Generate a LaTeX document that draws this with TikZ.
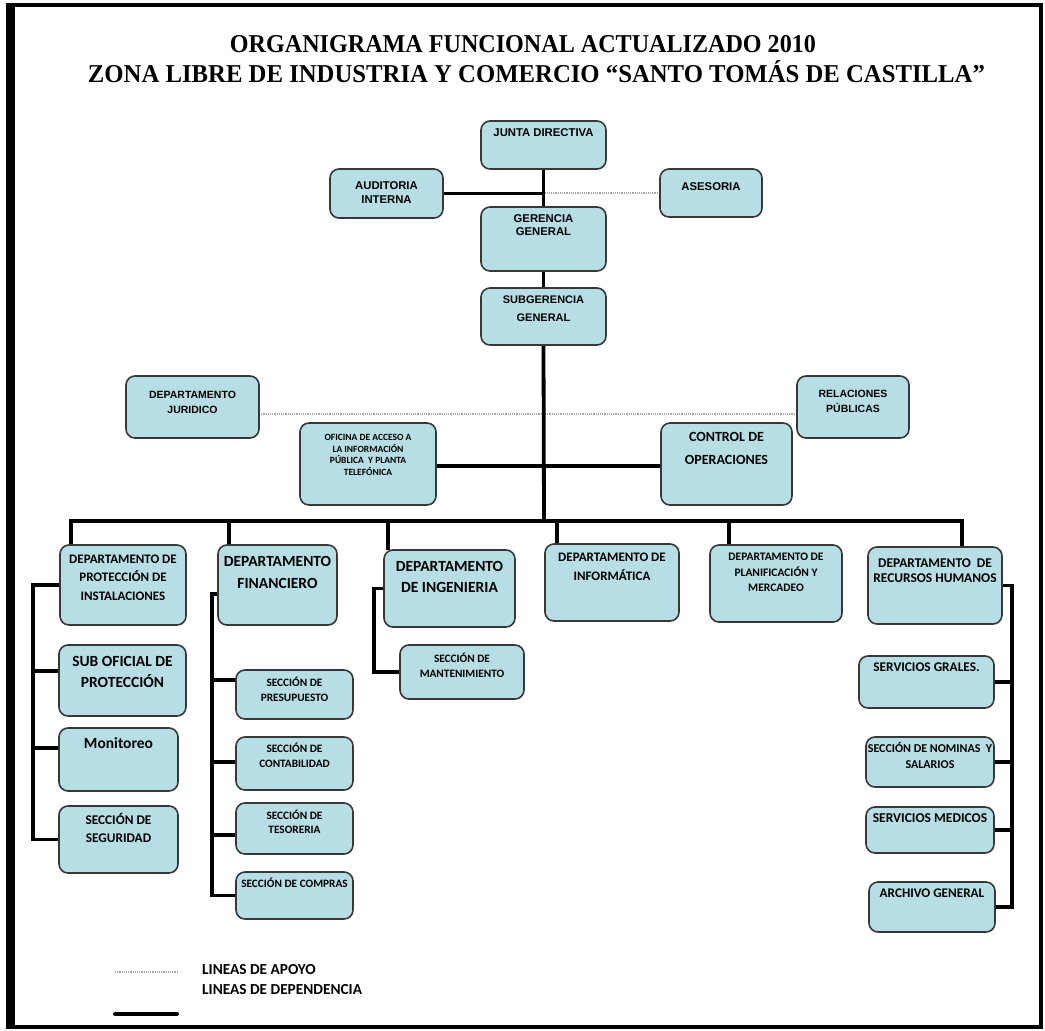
\documentclass[tikz,border=0pt]{standalone}
\usepackage{fontspec}
\usepackage{graphicx}
\setmainfont{Liberation Sans}
\newfontfamily\carl{Carlito}
\newfontfamily\titf{Liberation Serif}
\usetikzlibrary{calc}
\definecolor{boxfill}{RGB}{183,222,228}
\definecolor{boxline}{RGB}{55,55,55}
\newcommand\arf[2]{\fontsize{#1}{#2}\selectfont\bfseries}
\newcommand\caf[2]{\carl\fontsize{#1}{#2}\selectfont\bfseries}
\newcommand\orgB[8]{%
 \node[orgbox, minimum width={(#4)-(#2)}, minimum height={(#5)-(#3)}] (#1) at ({((#2)+(#4))/2},{((#3)+(#5))/2}) {};
 \node[boxtext, font={#7}] (#1-t) at ({((#2)+(#4))/2},#6) {#8};}
\tikzset{
 orgbox/.style={draw=boxline, fill=boxfill, line width=1.6pt, rounded corners=9pt, inner sep=0pt, outer sep=0pt},
 boxtext/.style={align=center, inner sep=0pt, text=black},
 dep/.style={line width=3.8pt, black},
 apoyo/.style={line width=1.3pt, black!35, dash pattern=on 1.2pt off 1pt},
 frame/.style={line width=4pt, black}
}
\pgfdeclarelayer{bg}
\pgfsetlayers{bg,main}
\begin{document}
\begin{tikzpicture}[x=1pt, y=-1pt]
\useasboundingbox (0,0) rectangle (1045,1031);
\draw[frame] (10.5,5) rectangle (1040.5,1026.5);
\draw[line width=9pt] (10.5,3) -- (10.5,1028.5);

% titles
\node[anchor=base, inner sep=0pt, font=\titf\bfseries\fontsize{25.7}{30}\selectfont] (title1) at (523,52)
  {\resizebox{586pt}{\height}{ORGANIGRAMA FUNCIONAL ACTUALIZADO 2010}};
\node[anchor=base, inner sep=0pt, font=\titf\bfseries\fontsize{25.7}{30}\selectfont] (title2) at (536.5,82)
  {\resizebox{897pt}{\height}{ZONA LIBRE DE INDUSTRIA Y COMERCIO “SANTO TOMÁS DE CASTILLA”}};

% boxes
\orgB{junta}{481}{121}{606}{169}{133}{\arf{11.3}{14}}{JUNTA DIRECTIVA}
\orgB{audit}{330}{169}{443}{218}{193}{\arf{11.3}{14}}{AUDITORIA\\INTERNA}
\orgB{ases}{660}{169}{762}{217}{187}{\arf{11.3}{14}}{ASESORIA}
\orgB{ger}{481}{207}{606}{271}{225.5}{\arf{11.3}{13}}{GERENCIA\\GENERAL}
\orgB{subg}{481}{288}{606}{345}{309}{\arf{11}{18}}{SUBGERENCIA\\GENERAL}
\orgB{jur}{126}{376}{259}{438}{402.5}{\arf{10.5}{15}}{DEPARTAMENTO\\JURIDICO}
\orgB{rel}{797}{376}{909}{438}{401.5}{\arf{10.5}{15}}{RELACIONES\\PÚBLICAS}
\orgB{ofi}{300}{423}{436}{505}{455}{\caf{9.5}{11.7}}{OFICINA DE ACCESO A\\LA INFORMACIÓN\\PÚBLICA~ Y PLANTA\\TELEFÓNICA}
\orgB{ctrl}{661}{423}{792}{505}{448.5}{\caf{14}{23}}{CONTROL DE\\OPERACIONES}
\orgB{prot}{60}{545}{186}{625}{577.5}{\caf{13}{18.5}}{DEPARTAMENTO DE\\PROTECCIÓN DE\\INSTALACIONES}
\orgB{fin}{218}{545}{337}{625}{572}{\caf{15.5}{22}}{DEPARTAMENTO\\FINANCIERO}
\orgB{ing}{384}{550}{515}{627}{576.5}{\caf{15.5}{21}}{DEPARTAMENTO\\DE INGENIERIA}
\orgB{inf}{545}{544}{679}{621}{566.5}{\caf{13}{19}}{DEPARTAMENTO DE\\INFORMÁTICA}
\orgB{plan}{710}{545}{842}{622}{572.5}{\caf{11.5}{15.5}}{DEPARTAMENTO DE\\PLANIFICACIÓN Y\\MERCADEO}
\orgB{rh}{868}{547}{1002}{624}{570.5}{\caf{13.4}{15}}{DEPARTAMENTO~ DE\\RECURSOS HUMANOS}
\orgB{subof}{59}{645}{186}{716}{671.5}{\caf{15.5}{21}}{SUB OFICIAL DE\\PROTECCIÓN}
\orgB{moni}{59}{728}{178}{791}{743}{\caf{15.5}{18}}{Monitoreo}
\orgB{seg}{59}{806}{178}{873}{828}{\caf{13.3}{18}}{SECCIÓN DE\\SEGURIDAD}
\orgB{mant}{400}{645}{524}{699}{665.5}{\caf{11.3}{15}}{SECCIÓN DE\\MANTENIMIENTO}
\orgB{pres}{236}{670}{353}{719}{689.5}{\caf{11.3}{15}}{SECCIÓN DE\\PRESUPUESTO}
\orgB{cont}{236}{737}{353}{790}{755.5}{\caf{11.3}{15}}{SECCIÓN DE\\CONTABILIDAD}
\orgB{tes}{236}{803}{353}{854}{822}{\caf{11.3}{14}}{SECCIÓN DE\\TESORERIA}
\orgB{comp}{236}{872}{353}{919}{883}{\caf{11.3}{14}}{SECCIÓN DE COMPRAS}
\orgB{gra}{859}{656}{994}{708}{667}{\caf{13.3}{16}}{SERVICIOS GRALES.}
\orgB{nom}{866}{737}{994}{787}{755}{\caf{12}{16}}{SECCIÓN DE NOMINAS~ Y\\SALARIOS}
\orgB{med}{866}{807}{994}{853}{818}{\caf{13.5}{16}}{SERVICIOS MEDICOS}
\orgB{arch}{869}{882}{995}{932}{893}{\caf{13.2}{16}}{ARCHIVO GENERAL}

% connectors
\begin{pgfonlayer}{bg}
\draw[apoyo] (ases.west) -- (ases.west -| junta.south);
\coordinate (jr) at (0,414);
\draw[apoyo] (jur.east |- jr) -- (rel.west |- jr);
\draw[dep] (audit.east) -- (audit.east -| junta.south);
\draw[dep] (junta.south) -- (ger.north);
\draw[dep] (ger.south) -- (subg.north);
\coordinate (busC) at (544,521);
\draw[dep] (subg.south) -- (busC);
\coordinate (oc) at (0,466);
\draw[dep] (ofi.east |- oc) -- (ctrl.west |- oc);
\coordinate (dP) at ([xshift=11pt]prot.north west);
\coordinate (dF) at ([xshift=11pt]fin.north west);
\coordinate (dI) at ([xshift=4pt]ing.north west);
\coordinate (dN) at ([xshift=12pt]inf.north west);
\coordinate (dL) at ([xshift=19pt]plan.north west);
\coordinate (dR) at ([xshift=-40pt]rh.north east);
\draw[dep] (dP) |- (dR |- busC) -- (dR);
\draw[dep] (dF) -- (dF |- busC);
\draw[dep] (dI) -- (dI |- busC);
\draw[dep] (dN) -- (dN |- busC);
\draw[dep] (dL) -- (dL |- busC);
% proteccion
\coordinate (pv) at (33,0);
\draw[dep] (prot.west) -| (pv |- seg.west) -- (seg.west);
\coordinate (pb1) at (33,671);
\draw[dep] (pb1) -- (pb1 -| subof.west);
\coordinate (pb2) at (33,748);
\draw[dep] (pb2) -- (pb2 -| moni.west);
% financiero
\coordinate (fv0) at (212,594);
\draw[dep] (fin.west |- fv0) -- (fv0) |- (comp.west);
\coordinate (fb1) at (212,680);
\draw[dep] (fb1) -- (fb1 -| pres.west);
\coordinate (fb2) at (212,762);
\draw[dep] (fb2) -- (fb2 -| cont.west);
\coordinate (fb3) at (212,835);
\draw[dep] (fb3) -- (fb3 -| tes.west);
% ingenieria
\coordinate (iv) at (374,0);
\draw[dep] (ing.west) -| (iv |- mant.west) -- (mant.west);
% recursos humanos
\coordinate (rv) at (1012,0);
\draw[dep] (rh.east) -| (rv |- arch.east) -- (arch.east);
\draw[dep] (gra.east) -- (gra.east -| rv);
\draw[dep] (nom.east) -- (nom.east -| rv);
\draw[dep] (med.east) -- (med.east -| rv);
\end{pgfonlayer}

% legend
\coordinate (la1) at (115,972);
\coordinate (la2) at (177,972);
\coordinate (lb1) at (115,1014);
\coordinate (lb2) at (177,1014);
\draw[apoyo] (la1) -- (la2);
\draw[line width=4pt, line cap=round] (lb1) -- (lb2);
\node[anchor=west, inner sep=0pt, font=\caf{15.3}{20}] (legA) at (202,970) {LINEAS DE APOYO};
\node[anchor=west, inner sep=0pt, font=\caf{15.3}{20}] (legB) at (202,990) {LINEAS DE DEPENDENCIA};
\end{tikzpicture}
\end{document}
